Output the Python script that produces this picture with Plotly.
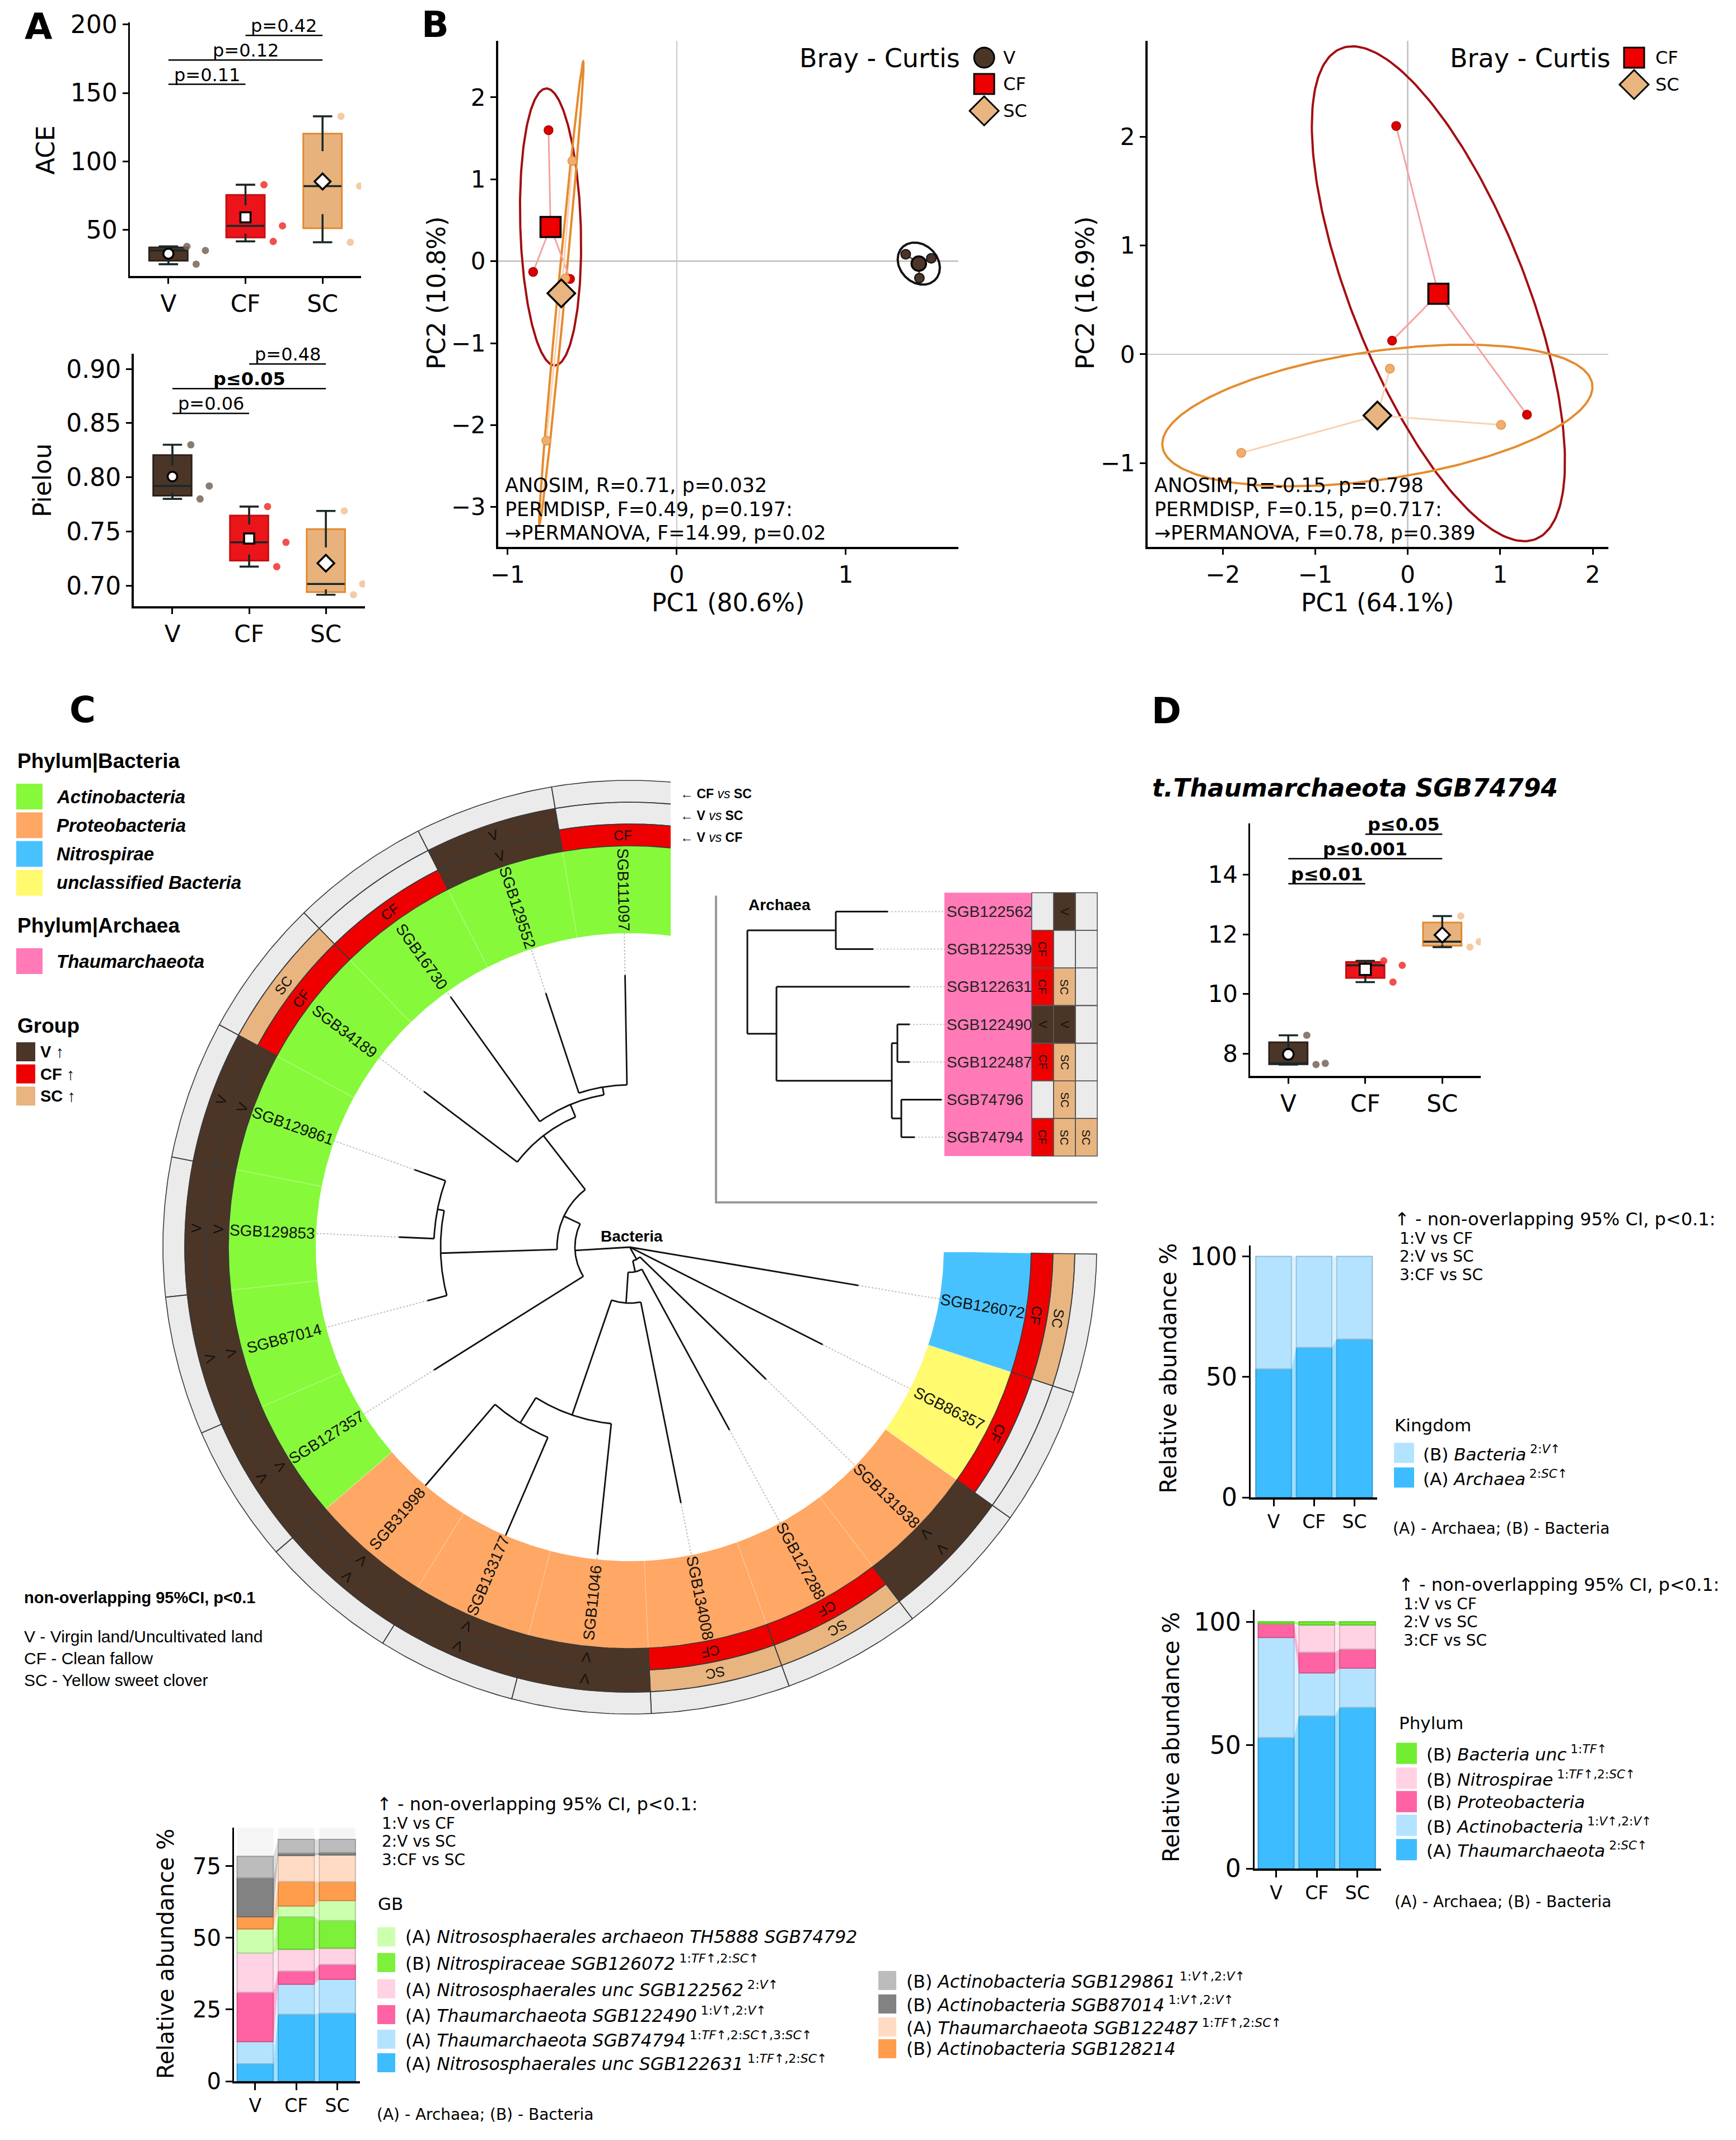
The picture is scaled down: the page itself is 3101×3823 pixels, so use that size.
import re
import numpy as np
import plotly.graph_objects as go

W, H = 3101, 3823
SANS = "DejaVu Sans"
ARIAL = "Liberation Sans"

# ============================ DATA ============================
GROUPS = ["V", "CF", "SC"]

# Panel A - alpha diversity, three samples per group (sample order = dodge order)
ACE = {"V": [38.0, 25.0, 35.0], "CF": [83.0, 41.6, 53.0], "SC": [133.0, 41.0, 82.0]}
PIELOU = {"V": [0.830, 0.780, 0.792], "CF": [0.773, 0.7175, 0.740], "SC": [0.769, 0.6916, 0.7015]}
ACE_TESTS = [("V", "CF", "p=0.11", False), ("V", "SC", "p=0.12", False), ("CF", "SC", "p=0.42", False)]
PIELOU_TESTS = [("V", "CF", "p=0.06", False), ("V", "SC", "p≤0.05", True), ("CF", "SC", "p=0.48", False)]

# Panel B - PCoA on Bray-Curtis
PC1_X = {"V": [1.354, 1.505, 1.435], "CF": [-0.758, -0.849, -0.631], "SC": [-0.617, -0.771, -0.659]}
PC1_Y = {"V": [0.085, 0.035, -0.206], "CF": [1.60, -0.13, -0.216], "SC": [1.225, -2.19, -0.21]}
PC2_X = {"CF": [-0.125, -0.169, 1.289], "SC": [-0.193, 1.009, -1.80]}
PC2_Y = {"CF": [2.098, 0.125, -0.555], "SC": [-0.132, -0.649, -0.906]}
PC1_STATS = ["ANOSIM, R=0.71, p=0.032", "PERMDISP, F=0.49, p=0.197:", "→PERMANOVA, F=14.99, p=0.02"]
PC2_STATS = ["ANOSIM, R=-0.15, p=0.798", "PERMDISP, F=0.15, p=0.717:", "→PERMANOVA, F=0.78, p=0.389"]
PC1_TITLES = ("PC1 (80.6%)", "PC2 (10.8%)")
PC2_TITLES = ("PC1 (64.1%)", "PC2 (16.9%)")

# Panel C - bacterial circular tree
BAC_LEAVES = ["SGB111097", "SGB129552", "SGB16730", "SGB34189", "SGB129861", "SGB129853",
              "SGB87014", "SGB127357", "SGB31998", "SGB133177", "SGB11046", "SGB134008",
              "SGB127288", "SGB131938", "SGB86357", "SGB126072"]
BAC_PHYLUM = ["Actinobacteria"] * 8 + ["Proteobacteria"] * 6 + ["unclassified Bacteria", "Nitrospirae"]
BAC_V_CF = ["CF", "V", "CF", "CF", "V", "V", "V", "V", "V", "V", "V", "CF", "CF", "V", "CF", "CF"]
BAC_V_SC = ["", "V", "", "SC", "V", "V", "V", "V", "V", "V", "V", "SC", "SC", "V", "", "SC"]
BAC_CF_SC = [""] * 16
BAC_LEAF_PARENT = ["n01", "n01", "n012", "n0123", "n45", "n45", "n456", "Y",
                   "n89", "n89", "n8910", "Z", "R2", "R1", "root", "root"]
BAC_LEAF_DEPTH = [486, 478, 550, 461, 409, 413, 374, 413, 561, 561, 552, 466, 372, 339, 386, 414]
BAC_NODE_PARENT = {"n01": "n012", "n012": "n0123", "n0123": "X", "n45": "n456", "n456": "X",
                   "X": "Y", "Y": "root", "n89": "n8910", "n8910": "Z", "Z": "R2", "R2": "R1",
                   "R1": "root"}
BAC_NODE_DEPTH = {"root": 0, "Y": 98, "X": 130, "n0123": 252, "n012": 276, "n01": 290,
                  "n456": 338, "n45": 350, "R1": 25, "R2": 45, "Z": 100, "n8910": 317, "n89": 370}

# Panel C - archaeal inset tree
ARC_LEAVES = ["SGB122562", "SGB122539", "SGB122631", "SGB122490", "SGB122487", "SGB74796", "SGB74794"]
ARC_V_CF = ["", "CF", "CF", "V", "CF", "", "CF"]
ARC_V_SC = ["V", "", "SC", "V", "SC", "SC", "SC"]
ARC_CF_SC = ["", "", "", "", "", "", "SC"]
ARC_LEAF_PARENT = ["A", "A", "B", "D", "D", "E", "E"]
ARC_LEAF_DEPTH = [251, 225, 290, 290, 290, 347, 299]
ARC_NODE_PARENT = {"A": "root", "B": "root", "C": "B", "D": "C", "E": "C"}
ARC_NODE_DEPTH = {"root": 0, "A": 158, "B": 52, "C": 258, "D": 268, "E": 275}

# Panel C - genome-bin composition (bottom -> top of stack)
GB_NAMES = ["(A) Nitrososphaerales unc SGB122631", "(A) Thaumarchaeota SGB74794",
            "(A) Thaumarchaeota SGB122490", "(A) Nitrososphaerales unc SGB122562",
            "(B) Nitrospiraceae SGB126072", "(A) Nitrososphaerales archaeon TH5888 SGB74792",
            "(B) Actinobacteria SGB128214", "(A) Thaumarchaeota SGB122487",
            "(B) Actinobacteria SGB87014", "(B) Actinobacteria SGB129861"]
GB_MARKS = ["1:TF↑,2:SC↑", "1:TF↑,2:SC↑,3:SC↑", "1:V↑,2:V↑", "2:V↑", "1:TF↑,2:SC↑", "", "",
            "1:TF↑,2:SC↑", "1:V↑,2:V↑", "1:V↑,2:V↑"]
GB_VALUES = [[6.1, 23.3, 23.7], [7.7, 10.5, 11.8], [17.2, 4.6, 5.2], [13.7, 7.6, 5.7],
             [0.0, 11.3, 9.6], [8.4, 3.8, 7.0], [4.2, 8.5, 6.5], [0.0, 9.1, 9.4],
             [13.6, 0.8, 0.8], [7.5, 4.8, 4.6]]

# Panel D
THAUM = {"V": [8.62, 7.64, 7.68], "CF": [11.11, 10.40, 10.96], "SC": [12.61, 11.57, 11.75]}
D_TESTS = [("V", "CF", "p≤0.01", True), ("V", "SC", "p≤0.001", True), ("CF", "SC", "p≤0.05", True)]
KINGDOM_NAMES = ["(A) Archaea", "(B) Bacteria"]
KINGDOM_MARKS = ["2:SC↑", "2:V↑"]
KINGDOM_VALUES = [[53.3, 62.2, 65.6], [46.7, 37.8, 34.4]]
PHYLUM_NAMES = ["(A) Thaumarchaeota", "(B) Actinobacteria", "(B) Proteobacteria",
                "(B) Nitrospirae", "(B) Bacteria unc"]
PHYLUM_MARKS = ["2:SC↑", "1:V↑,2:V↑", "", "1:TF↑,2:SC↑", "1:TF↑"]
PHYLUM_VALUES = [[53.0, 61.8, 65.3], [40.6, 17.5, 15.9], [5.6, 8.3, 7.7], [0.0, 11.1, 9.8],
                 [0.8, 1.3, 1.3]]

# ============================ STYLE ============================
GROUP_FILL = {"V": "#4B3527", "CF": "#EA141A", "SC": "#E8B27C"}
GROUP_EDGE = {"V": "#2E2119", "CF": "#C21010", "SC": "#E08A30"}
GROUP_DOT = {"V": "rgba(120,100,88,0.85)", "CF": "rgba(242,60,60,0.9)", "SC": "rgba(243,200,160,0.95)"}
MEAN_SYMBOL = {"V": "circle", "CF": "square", "SC": "diamond"}
WHISKER = "#16292A"
SAMPLE_OFFSET = [0.24, 0.36, 0.48]
STATE_COLOR = {"V": "#4B3527", "CF": "#EE0000", "SC": "#E8B580", "": "#EBEBEB"}
PHYLUM_COLOR = {"Actinobacteria": "#86F93A", "Proteobacteria": "#FFA764", "Nitrospirae": "#48C2FF",
                "unclassified Bacteria": "#FFFA6E", "Thaumarchaeota": "#FF7AB6"}
KINGDOM_COLORS = ["#3DBDFF", "#B4E3FF"]
PHYLUM_COLORS = ["#3DBDFF", "#B4E3FF", "#FF63A3", "#FFD2E4", "#72EE32"]
GB_COLORS = ["#3DBDFF", "#B4E3FF", "#FF63A3", "#FFD2E4", "#7DF03A", "#CCFFAE", "#FF9D4C",
             "#FFDBC4", "#828282", "#BCBCBC"]
ELLIPSE_SCALE = 1.65

fig = go.Figure()
ann = []
shapes = []
axes = {}


def xr(ax):
    return "x" if ax == 1 else f"x{ax}"


def yr(ax):
    return "y" if ax == 1 else f"y{ax}"


def add(tr, ax):
    tr.update(xaxis=xr(ax), yaxis=yr(ax), showlegend=False, hoverinfo="skip")
    fig.add_trace(tr)


def txt(x, y, s, size, family=SANS, color="black", xa="left", ya="middle", angle=0, ax=5, align="left"):
    ann.append(dict(x=x, y=y, xref=xr(ax), yref=yr(ax), text=s, showarrow=False, xanchor=xa,
                    yanchor=ya, textangle=angle, align=align,
                    font=dict(family=family, size=size, color=color)))


def rect(x0, y0, x1, y1, color):
    shapes.append(dict(type="rect", xref="x5", yref="y5", x0=x0, y0=y0, x1=x1, y1=y1,
                       fillcolor=color, line=dict(width=0), layer="above"))


def darker(c, f=0.82):
    r, g, b = int(c[1:3], 16), int(c[3:5], 16), int(c[5:7], 16)
    return f"rgb({int(r * f)},{int(g * f)},{int(b * f)})"


def rgba(c, a):
    r, g, b = int(c[1:3], 16), int(c[3:5], 16), int(c[5:7], 16)
    return f"rgba({r},{g},{b},{a})"


def leg_label(name, mark):
    s = f"{name[:4]}<i>{name[4:]}</i>"
    if mark:
        s += "<sup> " + re.sub(r"([A-Z]+)", r"<i>\1</i>", mark) + "</sup>"
    return s


def set_axes(ax, px_x, px_y, xrange, yrange, xkw=None, ykw=None):
    base = dict(showgrid=False, zeroline=False, showline=True, linecolor="black", linewidth=3.5,
                ticks="outside", ticklen=10, tickwidth=3, tickcolor="black", fixedrange=True,
                automargin=False)
    xa = dict(base, domain=[px_x[0] / W, px_x[1] / W], range=xrange, anchor=yr(ax))
    ya = dict(base, domain=[1 - px_y[1] / H, 1 - px_y[0] / H], range=yrange, anchor=xr(ax))
    xa.update(xkw or {})
    ya.update(ykw or {})
    axes["xaxis" if ax == 1 else f"xaxis{ax}"] = xa
    axes["yaxis" if ax == 1 else f"yaxis{ax}"] = ya


def tickfont(size):
    return dict(family=SANS, size=size, color="black")


GROUP_TICKS = dict(tickvals=[0, 1, 2], ticktext=GROUPS)

# ============================ PANEL A / D boxplots ============================
def sig_bars(ax, tests, levels, size):
    for (g1, g2, lab, bold), yv in zip(tests, levels):
        i1, i2 = GROUPS.index(g1), GROUPS.index(g2)
        add(go.Scatter(x=[i1, i2], y=[yv, yv], mode="lines", line=dict(color="black", width=2.5)), ax)
        ann.append(dict(x=(i1 + i2) / 2, y=yv, xref=xr(ax), yref=yr(ax),
                        text=f"<b>{lab}</b>" if bold else lab, showarrow=False, xanchor="center",
                        yanchor="bottom", yshift=-4, font=dict(family=SANS, size=size, color="black")))


def box_panel(ax, data, dot_size, mean_sizes):
    for gi, g in enumerate(GROUPS):
        v = np.asarray(data[g], float)
        add(go.Box(x=[gi] * len(v), y=v, width=0.5, boxpoints=False, quartilemethod="linear",
                   whiskerwidth=0.5, fillcolor=GROUP_FILL[g], line=dict(color=GROUP_EDGE[g], width=3)), ax)
        q1, med, q3 = np.percentile(v, [25, 50, 75])
        lo, hi = v.min(), v.max()
        c = 0.125
        add(go.Scatter(x=[gi, gi, None, gi, gi, None, gi - c, gi + c, None, gi - c, gi + c, None,
                          gi - 0.245, gi + 0.245],
                       y=[lo, q1, None, q3, hi, None, lo, lo, None, hi, hi, None, med, med],
                       mode="lines", line=dict(color=WHISKER, width=3.5)), ax)
        add(go.Scatter(x=gi + np.array(SAMPLE_OFFSET), y=v, mode="markers",
                       marker=dict(size=dot_size, color=GROUP_DOT[g])), ax)
        add(go.Scatter(x=[gi], y=[v.mean()], mode="markers",
                       marker=dict(symbol=MEAN_SYMBOL[g], size=mean_sizes[gi], color="white",
                                   line=dict(color="black", width=3.5))), ax)


set_axes(1, (232, 645), (40, 493), [-0.5, 2.5], [16.4, 201.5],
         dict(GROUP_TICKS, tickfont=tickfont(42)), dict(tickvals=[50, 100, 150, 200], tickfont=tickfont(44)))
box_panel(1, ACE, 13, [18, 18, 22])
sig_bars(1, ACE_TESTS, [156.3, 174.0, 192.0], 32)

set_axes(2, (238.5, 652), (632, 1083), [-0.507, 2.51], [0.681, 0.914],
         dict(GROUP_TICKS, tickfont=tickfont(42)),
         dict(tickvals=[0.70, 0.75, 0.80, 0.85, 0.90], tickformat=".2f", tickfont=tickfont(44)))
box_panel(2, PIELOU, 13, [17, 18, 23])
sig_bars(2, PIELOU_TESTS, [0.859, 0.8818, 0.9046], 32)

txt(69, 48, "<b>A</b>", 64, xa="center")
txt(81, 268, "ACE", 44, xa="center", angle=-90)
txt(75, 858, "Pielou", 44, xa="center", angle=-90)

set_axes(6, (2233, 2645), (1471, 1922), [-0.497, 2.5], [7.26, 15.71],
         dict(GROUP_TICKS, tickfont=tickfont(42)), dict(tickvals=[8, 10, 12, 14], tickfont=tickfont(42)))
box_panel(6, THAUM, 13, [19, 20, 21])
sig_bars(6, D_TESTS, [13.69, 14.53, 15.35], 32)
txt(2083, 1270, "<b>D</b>", 64, xa="center")
txt(2056, 1407, "<b><i>t.Thaumarchaeota SGB74794</i></b>", 44)

# ============================ PANEL B ============================
ELL_COLOR = {"V": "#111111", "CF": "#A30F12", "SC": "#E58B2E"}
SPOKE = {"V": "#6A574A", "CF": "#F4A3A3", "SC": "#F7D3B3"}
PC_DOT = {"V": dict(size=17, color="#4B3527", line=dict(color="#111", width=2)),
          "CF": dict(size=16, color="#DD0000", line=dict(color="#A00000", width=1.5)),
          "SC": dict(size=16, color="#F0AE6E", line=dict(color="#E0923F", width=1.5))}
CENT = {"V": ("circle", 26, "#4B3527"), "CF": ("square", 36, "#EE0000"), "SC": ("diamond", 38, "#E8B47F")}
LEG_SIZE = {"V": 36, "CF": 36, "SC": 40}


def ellipse(xs, ys, k=ELLIPSE_SCALE, n=240):
    pts = np.vstack([xs, ys])
    mu = pts.mean(axis=1)
    vals, vecs = np.linalg.eigh(np.cov(pts))
    t = np.linspace(0, 2 * np.pi, n)
    e = vecs @ (np.sqrt(np.maximum(vals, 0))[:, None] * np.vstack([np.cos(t), np.sin(t)])) * k + mu[:, None]
    return e[0], e[1]


def pcoa_panel(ax, X, Y, groups):
    for g in groups:
        ex, ey = ellipse(X[g], Y[g])
        add(go.Scatter(x=ex, y=ey, mode="lines", line=dict(color=ELL_COLOR[g], width=4)), ax)
    for g in groups:
        mx, my = np.mean(X[g]), np.mean(Y[g])
        sx, sy = [], []
        for a, b in zip(X[g], Y[g]):
            sx += [mx, a, None]
            sy += [my, b, None]
        add(go.Scatter(x=sx, y=sy, mode="lines", line=dict(color=SPOKE[g], width=3)), ax)
    for g in groups:
        add(go.Scatter(x=X[g], y=Y[g], mode="markers", marker=PC_DOT[g]), ax)
    for g in groups:
        sym, size, col = CENT[g]
        add(go.Scatter(x=[np.mean(X[g])], y=[np.mean(Y[g])], mode="markers",
                       marker=dict(symbol=sym, size=size, color=col, line=dict(color="black", width=3.5))), ax)


BZ = dict(zeroline=True, zerolinecolor="#C8C8C8", zerolinewidth=2.5)
set_axes(3, (889.5, 1711.5), (73, 977), [-1.057, 1.664], [-3.487, 2.69],
         dict(BZ, tickvals=[-1, 0, 1], tickfont=tickfont(42)),
         dict(BZ, tickvals=[-3, -2, -1, 0, 1, 2], tickfont=tickfont(42)))
pcoa_panel(3, PC1_X, PC1_Y, ["CF", "SC", "V"])
set_axes(4, (2049.5, 2872.8), (73, 977), [-2.815, 2.168], [-1.77, 2.88],
         dict(BZ, tickvals=[-2, -1, 0, 1, 2], tickfont=tickfont(42)),
         dict(BZ, tickvals=[-1, 0, 1, 2], tickfont=tickfont(42)))
pcoa_panel(4, PC2_X, PC2_Y, ["CF", "SC"])

txt(777, 44, "<b>B</b>", 64, xa="center")
for i, s in enumerate(PC1_STATS):
    txt(900, 867 + 42.5 * i, s, 35)
for i, s in enumerate(PC2_STATS):
    txt(2060, 867 + 42.5 * i, s, 35)
txt(1300, 1076, PC1_TITLES[0], 44, xa="center")
txt(779, 524, PC1_TITLES[1], 44, xa="center", angle=-90)
txt(2460, 1076, PC2_TITLES[0], 44, xa="center")
txt(1938, 524, PC2_TITLES[1], 44, xa="center", angle=-90)

txt(1717, 104, "Bray - Curtis", 46, xa="right")
txt(2879, 104, "Bray - Curtis", 46, xa="right")
LEG_B1 = [("V", 103), ("CF", 150), ("SC", 198)]
LEG_B2 = [("CF", 103), ("SC", 151)]

# ============================ PANEL C ============================
CX, CY = 1125.0, 2228.0
R_IN, R_PHY, R_1, R_2, R_3 = 561, 717, 756, 795, 834
ANG_START, ANG_STEP = 91.0, 17.3


def pol(r, a):
    t = np.radians(a)
    return CX + r * np.cos(t), CY - r * np.sin(t)


def sector(r0, r1, a0, a1, n=28):
    a = np.linspace(a0, a1, n)
    xo, yo = pol(r1, a)
    xi, yi = pol(r0, a[::-1])
    return list(xo) + list(xi) + [xo[0]], list(yo) + list(yi) + [yo[0]]


fills = {}


def push(color, xs, ys):
    fx, fy = fills.setdefault(color, ([], []))
    fx.extend(list(xs) + [None])
    fy.extend(list(ys) + [None])


ring_states = [BAC_V_CF, BAC_V_SC, BAC_CF_SC]
ring_radii = [(R_PHY, R_1), (R_1, R_2), (R_2, R_3)]
ox, oy, sx_, sy_ = [], [], [], []
for i, leaf in enumerate(BAC_LEAVES):
    ac = ANG_START + ANG_STEP * i
    a0, a1 = ac - ANG_STEP / 2, ac + ANG_STEP / 2
    xs, ys = sector(R_IN, R_PHY, a0, a1)
    push(PHYLUM_COLOR[BAC_PHYLUM[i]], xs, ys)
    p0, p1 = pol(np.array([R_IN, R_PHY]), a0)
    sx_ += [p0[0], p0[1], None]
    sy_ += [p1[0], p1[1], None]
    for states, (r0, r1) in zip(ring_states, ring_radii):
        xs, ys = sector(r0, r1, a0, a1)
        push(STATE_COLOR[states[i]], xs, ys)
        ox += xs + [None]
        oy += ys + [None]
for col, (fx, fy) in fills.items():
    add(go.Scatter(x=fx, y=fy, fill="toself", fillcolor=col, mode="lines", line=dict(width=0)), 5)
add(go.Scatter(x=sx_, y=sy_, mode="lines", line=dict(color="rgba(255,255,255,0.35)", width=1.5)), 5)
add(go.Scatter(x=ox, y=oy, mode="lines", line=dict(color="#3A3A3A", width=1.6)), 5)

children = {}
for i, p in enumerate(BAC_LEAF_PARENT):
    children.setdefault(p, []).append(("leaf", i))
for n, p in BAC_NODE_PARENT.items():
    children.setdefault(p, []).append(("node", n))
pos = {}


def node_pos(key):
    kind, name = key
    if kind == "leaf":
        return float(name)
    if name not in pos:
        pos[name] = float(np.mean([node_pos(c) for c in children[name]]))
    return pos[name]


node_pos(("node", "root"))
ang = lambda idx: ANG_START + ANG_STEP * idx
tx, ty, dx, dy = [], [], [], []
for i, p in enumerate(BAC_LEAF_PARENT):
    a = ang(i)
    x0, y0 = pol(BAC_NODE_DEPTH[p], a)
    x1, y1 = pol(BAC_LEAF_DEPTH[i], a)
    tx += [x0, x1, None]
    ty += [y0, y1, None]
    x2, y2 = pol(R_IN, a)
    dx += [x1, x2, None]
    dy += [y1, y2, None]
for n, p in BAC_NODE_PARENT.items():
    a = ang(pos[n])
    x0, y0 = pol(BAC_NODE_DEPTH[p], a)
    x1, y1 = pol(BAC_NODE_DEPTH[n], a)
    tx += [x0, x1, None]
    ty += [y0, y1, None]
    cang = [ang(node_pos(c)) for c in children[n]]
    arc = np.linspace(min(cang), max(cang), 40)
    axx, ayy = pol(BAC_NODE_DEPTH[n], arc)
    tx += list(axx) + [None]
    ty += list(ayy) + [None]
add(go.Scatter(x=dx, y=dy, mode="lines", line=dict(color="#BDBDBD", width=2, dash="dot")), 5)
add(go.Scatter(x=tx, y=ty, mode="lines", line=dict(color="#111111", width=2.8)), 5)

for i, leaf in enumerate(BAC_LEAVES):
    a = ang(i) % 360
    lx, ly = pol((R_IN + R_PHY) / 2, a)
    la = (180 - a) if 90 < a < 270 else -a
    la = ((la + 180) % 360) - 180
    txt(lx, ly, leaf, 28, family=ARIAL, color="#111", xa="center", angle=la)
    ta = ((90 - a + 180) % 360) - 180
    for states, (r0, r1) in zip(ring_states, ring_radii):
        if states[i]:
            cx_, cy_ = pol((r0 + r1) / 2, a)
            txt(cx_, cy_, states[i], 25, family=ARIAL, color="#111", xa="center", angle=ta)
txt(1128, 2208, "<b>Bacteria</b>", 28, family=ARIAL, xa="center")

# white inset panel hiding the clipped quadrant of the ring
add(go.Scatter(x=[1198, 1980, 1980, 1198, 1198], y=[1372, 1372, 2237, 2237, 1372], fill="toself",
               fillcolor="white", mode="lines", line=dict(width=0)), 5)

IN_X0, IN_ROOT, ROW0, ROW_H = 1687.0, 1335.0, 1628.4, 67.2
add(go.Scatter(x=[1279, 1279, 1960], y=[1600, 2148, 2148], mode="lines",
               line=dict(color="#9A9A9A", width=4)), 5)
top, bot = ROW0 - ROW_H / 2, ROW0 + ROW_H * (len(ARC_LEAVES) - 0.5)
add(go.Scatter(x=[IN_X0, IN_X0 + R_PHY - R_IN, IN_X0 + R_PHY - R_IN, IN_X0, IN_X0],
               y=[top, top, bot, bot, top], fill="toself", fillcolor=PHYLUM_COLOR["Thaumarchaeota"],
               mode="lines", line=dict(width=0)), 5)
cf = {}
cox, coy = [], []
arc_states = [ARC_V_CF, ARC_V_SC, ARC_CF_SC]
for j, states in enumerate(arc_states):
    c0 = IN_X0 + (R_PHY - R_IN) + j * (R_1 - R_PHY)
    c1 = c0 + (R_1 - R_PHY)
    for i, s in enumerate(states):
        y0, y1 = ROW0 + ROW_H * (i - 0.5), ROW0 + ROW_H * (i + 0.5)
        px_, py_ = [c0, c1, c1, c0, c0], [y0, y0, y1, y1, y0]
        fx, fy = cf.setdefault(STATE_COLOR[s], ([], []))
        fx += px_ + [None]
        fy += py_ + [None]
        cox += px_ + [None]
        coy += py_ + [None]
        if s:
            txt((c0 + c1) / 2, (y0 + y1) / 2, s, 20, family=ARIAL, color="#111", xa="center", angle=90)
for col, (fx, fy) in cf.items():
    add(go.Scatter(x=fx, y=fy, fill="toself", fillcolor=col, mode="lines", line=dict(width=0)), 5)
add(go.Scatter(x=cox, y=coy, mode="lines", line=dict(color="#555555", width=1.6)), 5)

achild = {}
for i, p in enumerate(ARC_LEAF_PARENT):
    achild.setdefault(p, []).append(("leaf", i))
for n, p in ARC_NODE_PARENT.items():
    achild.setdefault(p, []).append(("node", n))
apos = {}


def arow(key):
    kind, name = key
    if kind == "leaf":
        return float(name)
    if name not in apos:
        apos[name] = float(np.mean([arow(c) for c in achild[name]]))
    return apos[name]


arow(("node", "root"))
rowy = lambda r: ROW0 + ROW_H * r
ax_, ay_, adx, ady = [], [], [], []
for i, p in enumerate(ARC_LEAF_PARENT):
    ax_ += [IN_ROOT + ARC_NODE_DEPTH[p], IN_ROOT + ARC_LEAF_DEPTH[i], None]
    ay_ += [rowy(i), rowy(i), None]
    adx += [IN_ROOT + ARC_LEAF_DEPTH[i], IN_X0, None]
    ady += [rowy(i), rowy(i), None]
for n in ["root"] + list(ARC_NODE_PARENT):
    rows = [arow(c) for c in achild[n]]
    xn = IN_ROOT + ARC_NODE_DEPTH[n]
    ax_ += [xn, xn, None]
    ay_ += [rowy(min(rows)), rowy(max(rows)), None]
    if n != "root":
        ax_ += [IN_ROOT + ARC_NODE_DEPTH[ARC_NODE_PARENT[n]], xn, None]
        ay_ += [rowy(apos[n]), rowy(apos[n]), None]
add(go.Scatter(x=adx, y=ady, mode="lines", line=dict(color="#C8C8C8", width=2, dash="dot")), 5)
add(go.Scatter(x=ax_, y=ay_, mode="lines", line=dict(color="#111111", width=3)), 5)
for i, leaf in enumerate(ARC_LEAVES):
    txt(IN_X0 + 2, rowy(i), leaf, 28, family=ARIAL, color="#222")
txt(1335, 1616, "<b>Archaea</b>", 28, family=ARIAL)

for yy, lab in [(1418, "<b>CF</b> <i>vs</i> <b>SC</b>"), (1457, "<b>V</b> <i>vs</i> <b>SC</b>"),
                (1496, "<b>V</b> <i>vs</i> <b>CF</b>")]:
    txt(1213, yy, "← " + lab, 23, family=ARIAL)

txt(147, 1268, "<b>C</b>", 64, xa="center")
txt(29, 1360, "<b>Phylum|Bacteria</b>", 37, family=ARIAL)
for k, ph in enumerate(["Actinobacteria", "Proteobacteria", "Nitrospirae", "unclassified Bacteria"]):
    yc = 1423 + 51.3 * k
    rect(29, yc - 23, 76, yc + 23, PHYLUM_COLOR[ph])
    txt(99, yc, f"<b><i>{ph}</i></b>", 33, family=ARIAL)
txt(29, 1654, "<b>Phylum|Archaea</b>", 37, family=ARIAL)
rect(29, 1717 - 23, 76, 1717 + 23, PHYLUM_COLOR["Thaumarchaeota"])
txt(99, 1717, "<b><i>Thaumarchaeota</i></b>", 33, family=ARIAL)
txt(29, 1832, "<b>Group</b>", 37, family=ARIAL)
for k, g in enumerate(GROUPS):
    yc = 1879 + 39.5 * k
    rect(29, yc - 17, 63, yc + 17, STATE_COLOR[g])
    txt(70, yc, f"<b>{g}</b> ↑", 29, family=ARIAL)
txt(41, 2854, "<b>non-overlapping 95%CI, p&lt;0.1</b>", 29, family=ARIAL)
txt(41, 2962, "<br>".join(["V - Virgin land/Uncultivated land", "CF - Clean fallow",
                           "SC - Yellow sweet clover"]), 30, family=ARIAL)

# ============================ stacked composition panels ============================
def stacked_panel(ax, layers, colors, width=0.88, rest=None):
    cum = np.zeros(3)
    bottoms, tops = [], []
    for vals in layers:
        v = np.asarray(vals, float)
        bottoms.append(cum.copy())
        cum = cum + v
        tops.append(cum.copy())
    for b, t, c in zip(bottoms, tops, colors):
        fx, fy = [], []
        for i in range(2):
            x0, x1 = i + width / 2, i + 1 - width / 2
            fx += [x0, x1, x1, x0, x0, None]
            fy += [b[i], b[i + 1], t[i + 1], t[i], b[i], None]
        add(go.Scatter(x=fx, y=fy, fill="toself", fillcolor=rgba(c, 0.5), mode="lines",
                       line=dict(width=0)), ax)
    if rest is not None:
        add(go.Bar(x=[0, 1, 2], y=100 - cum, base=cum, width=width, marker=dict(color=rest, line=dict(width=0))), ax)
    for vals, b, c in zip(layers, bottoms, colors):
        add(go.Bar(x=[0, 1, 2], y=vals, base=b, width=width,
                   marker=dict(color=c, line=dict(color=darker(c), width=2))), ax)


def legend_block(x_sw, w_sw, h_sw, x_lab, ys, labels, colors, size):
    for yc, lab, c in zip(ys, labels, colors):
        rect(x_sw, yc - h_sw / 2, x_sw + w_sw, yc + h_sw / 2, c)
        txt(x_lab, yc, lab, size)


CI_LINES = ["1:V vs CF", "2:V vs SC", "3:CF vs SC"]


def ci_note(x, y_title):
    block = ("<span style='font-size:32px'>↑ - non-overlapping 95% CI, p&lt;0.1:</span><br>"
             + "<br>".join(f"<span style='font-size:28px'> {s}</span>" for s in CI_LINES))
    txt(x, y_title + 48.75, block, 25)


BAR_X = dict(GROUP_TICKS, tickfont=tickfont(33), ticklen=12)
set_axes(7, (2234.3, 2460), (2225, 2675), [-0.565, 2.56], [0, 104.5], BAR_X,
         dict(tickvals=[0, 50, 100], tickfont=tickfont(44), ticklen=12))
stacked_panel(7, KINGDOM_VALUES, KINGDOM_COLORS)
txt(2087, 2445, "Relative abundance %", 40, xa="center", angle=-90)
ci_note(2489, 2177.5)
txt(2489, 2546, "Kingdom", 31)
legend_block(2490, 36, 36, 2540, [2595.6, 2639.6],
             [leg_label(n, m) for n, m in zip(KINGDOM_NAMES, KINGDOM_MARKS)][::-1], KINGDOM_COLORS[::-1], 31)
txt(2486, 2730.5, "(A) - Archaea; (B) - Bacteria", 28)

set_axes(8, (2241, 2467), (2876, 3338), [-0.53, 2.58], [0, 104.8], BAR_X,
         dict(tickvals=[0, 50, 100], tickfont=tickfont(44), ticklen=12))
stacked_panel(8, PHYLUM_VALUES, PHYLUM_COLORS)
txt(2092, 3104, "Relative abundance %", 40, xa="center", angle=-90)
ci_note(2496, 2830.7)
txt(2497, 3078, "Phylum", 31)
legend_block(2494, 37, 38, 2546, [3132.3, 3176.5, 3218.6, 3260.7, 3304.2],
             [leg_label(n, m) for n, m in zip(PHYLUM_NAMES, PHYLUM_MARKS)][::-1], PHYLUM_COLORS[::-1], 31)
txt(2489, 3397, "(A) - Archaea; (B) - Bacteria", 28)

set_axes(9, (418.4, 642.9), (3265, 3718), [-0.51, 2.55], [0, 88.4], BAR_X,
         dict(tickvals=[0, 25, 50, 75], tickfont=tickfont(40), ticklen=12))
stacked_panel(9, GB_VALUES, GB_COLORS, rest="#F5F5F5")
txt(296, 3491, "Relative abundance %", 40, xa="center", angle=-90)
ci_note(671, 3223)
txt(673, 3401, "GB", 31)
GB_COLUMNS = [[5, 4, 3, 2, 1, 0], [9, 8, 7, 6]]
legend_block(674, 32, 34, 722, [3460, 3506, 3553, 3599, 3643, 3685],
             [leg_label(GB_NAMES[k], GB_MARKS[k]) for k in GB_COLUMNS[0]],
             [GB_COLORS[k] for k in GB_COLUMNS[0]], 31.5)
legend_block(1569, 32, 34, 1617, [3538, 3580, 3621, 3660],
             [leg_label(GB_NAMES[k], GB_MARKS[k]) for k in GB_COLUMNS[1]],
             [GB_COLORS[k] for k in GB_COLUMNS[1]], 31.5)
txt(671, 3777, "(A) - Archaea; (B) - Bacteria", 28)

for (g, yy) in LEG_B1:
    sym, size, col = CENT[g]
    add(go.Scatter(x=[1758], y=[yy], mode="markers",
                   marker=dict(symbol=sym, size=LEG_SIZE[g], color=col, line=dict(color="black", width=3))), 5)
    txt(1790, yy, g, 32)
for (g, yy) in LEG_B2:
    sym, size, col = CENT[g]
    add(go.Scatter(x=[2919], y=[yy], mode="markers",
                   marker=dict(symbol=sym, size=LEG_SIZE[g], color=col, line=dict(color="black", width=3))), 5)
    txt(2955, yy, g, 32)

axes["xaxis5"] = dict(domain=[0, 1], range=[0, W], visible=False, fixedrange=True, anchor="y5",
                      automargin=False, showticklabels=False)
axes["yaxis5"] = dict(domain=[0, 1], range=[H, 0], visible=False, fixedrange=True, anchor="x5",
                      automargin=False, showticklabels=False)

fig.update_layout(width=W, height=H, autosize=False,
                  margin=dict(l=0, r=0, t=0, b=0, pad=0, autoexpand=False),
                  paper_bgcolor="white", plot_bgcolor="rgba(0,0,0,0)", showlegend=False,
                  barmode="overlay", hovermode=False, annotations=ann, shapes=shapes,
                  font=dict(family=SANS, color="black"), **axes)

POST = ("var d=document.getElementById('{plot_id}');"
        "document.documentElement.style.margin='0';document.documentElement.style.padding='0';"
        "document.documentElement.style.overflow='hidden';"
        "document.body.style.margin='0';document.body.style.padding='0';document.body.style.overflow='hidden';"
        "d.style.position='absolute';d.style.left='0px';d.style.top='0px';")
fig.write_html("out.html", config={"displayModeBar": False, "staticPlot": True}, post_script=POST)
